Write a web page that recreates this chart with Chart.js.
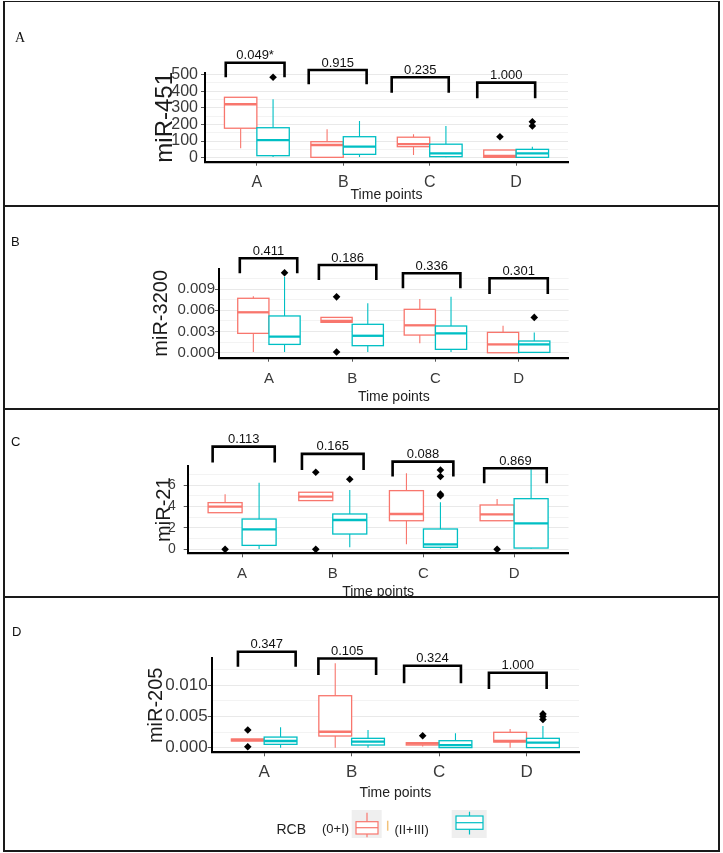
<!DOCTYPE html>
<html>
<head>
<meta charset="utf-8">
<script src="https://cdn.jsdelivr.net/npm/chart.js@4.4.0/dist/chart.umd.min.js"></script>
<style>
  html, body { margin: 0; padding: 0; background: #fff; }
  #page { position: relative; width: 723px; height: 853px; overflow: hidden; }
  .clip { position: absolute; left: 0; width: 723px; overflow: hidden; }
  .clip canvas { position: absolute; left: 0; top: 0; }
  .frame { position: absolute; left: 3px; width: 717px; box-sizing: border-box; border: 2px solid #1a1a1a; z-index: 2; }
  .tag { position: absolute; font-family: 'Liberation Sans', Arial, sans-serif; font-size: 13px; color: #111; z-index: 3; }
</style>
</head>
<body>
<div id="page">
  <div class="clip" style="top:0;height:206px"><canvas id="chart-451" width="723" height="206"></canvas></div>
  <div class="clip" style="top:206px;height:203px"><canvas id="chart-3200" width="723" height="203"></canvas></div>
  <div class="clip" style="top:409px;height:188px"><canvas id="chart-21" width="723" height="196"></canvas></div>
  <div class="clip" style="top:597px;height:254px"><canvas id="chart-205" width="723" height="254"></canvas></div>

  <div class="frame" style="top:1px;height:206px;border-top-width:1.5px"></div>
  <div class="frame" style="top:205px;height:205px"></div>
  <div class="frame" style="top:408px;height:190px"></div>
  <div class="frame" style="top:596px;height:256px"></div>

  <span class="tag" style="left:15px;top:30px;font-family:'Liberation Serif','DejaVu Serif',serif;font-size:14px">A</span>
  <span class="tag" style="left:11px;top:234px">B</span>
  <span class="tag" style="left:11px;top:434px">C</span>
  <span class="tag" style="left:12px;top:624px">D</span>
</div>

<script>
// Box plots of four miRNAs by time point, two RCB groups side by side.
// Each box: [lower whisker, q1, median, q3, upper whisker].

const categories = ["A", "B", "C", "D"];
const groupNames = ["(0+I)", "(II+III)"];
const groupColors = ["#F8766D", "#00BFC4"];

// miR-451
const mir451Red = [[57, 177, 321, 363, 363], [2, 2, 76, 96, 171], [16, 66, 81, 123, 141], [2, 2, 10, 46, 46]];
const mir451Cyan = [[4, 12, 106, 180, 351], [4, 20, 66, 126, 221], [2, 6, 26, 81, 191], [2, 2, 26, 50, 66]];
const mir451RedOut = [[], [], [], [126]];
const mir451CyanOut = [[483], [], [], [216, 190]];
const mir451Ticks = [0, 100, 200, 300, 400, 500];
const mir451TickLabels = ["0", "100", "200", "300", "400", "500"];
const mir451Minor = [50, 150, 250, 350, 450];
const mir451Range = [-24.25, 509];
const mir451P = ["0.049*", "0.915", "0.235", "1.000"];
const mir451BracketTop = [571, 527, 483, 451];
const mir451BracketFoot = [483, 441, 391, 357];
const mir451BracketSpan = [[-0.36, 0.32], [-0.40, 0.27], [-0.44, 0.22], [-0.45, 0.22]];

// miR-3200
const mir3200Red = [[0.0001, 0.00274, 0.00572, 0.0077, 0.008], [0.0043, 0.0043, 0.00449, 0.005, 0.005], [0.00133, 0.0025, 0.00388, 0.00614, 0.0076], [0, 0, 0.00118, 0.00288, 0.0038]];
const mir3200Cyan = [[0.0001, 0.00118, 0.00227, 0.0052, 0.01075], [0.0001, 0.001, 0.0024, 0.00402, 0.007], [0.0001, 0.00048, 0.00274, 0.00378, 0.0079], [0, 0.00005, 0.00118, 0.00166, 0.00288]];
const mir3200RedOut = [[], [0.0079, 0.0001], [], []];
const mir3200CyanOut = [[0.0113], [], [], [0.005]];
const mir3200Ticks = [0, 0.003, 0.006, 0.009];
const mir3200TickLabels = ["0.000", "0.003", "0.006", "0.009"];
const mir3200Minor = [0.0015, 0.0045, 0.0075, 0.0105];
const mir3200Range = [-0.0007, 0.01184];
const mir3200P = ["0.411", "0.186", "0.336", "0.301"];
const mir3200BracketTop = [0.01336, 0.01241, 0.01124, 0.01053];
const mir3200BracketFoot = [0.01124, 0.01029, 0.00911, 0.00831];
const mir3200BracketSpan = [[-0.35, 0.34], [-0.40, 0.29], [-0.39, 0.30], [-0.35, 0.35]];

// miR-21
const mir21Red = [[3.42, 3.42, 3.98, 4.36, 5.14], [4.55, 4.55, 4.92, 5.33, 5.33], [0.47, 2.67, 3.3, 5.48, 7.1], [2.67, 2.67, 3.27, 4.14, 4.7]];
const mir21Cyan = [[0.04, 0.37, 1.87, 2.83, 6.22], [0.19, 1.43, 2.74, 3.3, 5.54], [0.07, 0.19, 0.47, 1.9, 4.39], [0.05, 0.12, 2.43, 4.73, 7.48]];
const mir21RedOut = [[0], [7.2, 0], [], [0]];
const mir21CyanOut = [[], [6.54], [7.4, 6.8, 5.15, 5.0], []];
const mir21Ticks = [0, 2, 4, 6];
const mir21TickLabels = ["0", "2", "4", "6"];
const mir21Minor = [1, 3, 5, 7];
const mir21Range = [-0.37, 7.78];
const mir21P = ["0.113", "0.165", "0.088", "0.869"];
const mir21BracketTop = [9.59, 8.91, 8.19, 7.57];
const mir21BracketFoot = [8.1, 7.41, 6.79, 6.17];
const mir21BracketSpan = [[-0.325, 0.36], [-0.34, 0.34], [-0.34, 0.33], [-0.33, 0.36]];

// miR-205
const mir205Red = [[0.00107, 0.00107, 0.00123, 0.00139, 0.00139], [0, 0.00187, 0.00255, 0.0083, 0.01347], [0.0002, 0.00043, 0.00064, 0.0008, 0.0008], [0, 0.00091, 0.00107, 0.00246, 0.00298]];
const mir205Cyan = [[0, 0.00054, 0.00107, 0.0017, 0.00325], [0, 0.00043, 0.00096, 0.0015, 0.00282], [0, 0.00002, 0.00043, 0.00112, 0.0023], [0, 0.00002, 0.0008, 0.0015, 0.00346]];
const mir205RedOut = [[0.00282, 0.00016], [], [0.00191], []];
const mir205CyanOut = [[], [], [], [0.0054, 0.005, 0.0045]];
const mir205Ticks = [0, 0.005, 0.01];
const mir205TickLabels = ["0.000", "0.005", "0.010"];
const mir205Minor = [0.0025, 0.0075, 0.0125];
const mir205Range = [-0.00073, 0.01427];
const mir205P = ["0.347", "0.105", "0.324", "1.000"];
const mir205BracketTop = [0.01532, 0.01425, 0.01308, 0.01197];
const mir205BracketFoot = [0.01293, 0.0116, 0.01027, 0.00937];
const mir205BracketSpan = [[-0.30, 0.36], [-0.38, 0.28], [-0.40, 0.25], [-0.43, 0.23]];

Chart.defaults.font.family = "'Liberation Sans', Arial, sans-serif";

const SHIFTS = [-0.1875, 0.1875];
const BOX_WIDTH = 0.375;
const Y_AXIS_W = 60;

function boxLayer(series) {
  return {
    id: "boxLayer",
    beforeDatasetsDraw(chart) {
      const { ctx, scales: { x, y } } = chart;
      ctx.save();
      series.forEach((stats, g) => {
        stats.forEach((s, i) => {
          const [lo, q1, med, q3, hi] = s;
          const xl = x.getPixelForValue(i + 1 + SHIFTS[g] - BOX_WIDTH / 2);
          const xr = x.getPixelForValue(i + 1 + SHIFTS[g] + BOX_WIDTH / 2);
          const xc = (xl + xr) / 2;
          const yt = y.getPixelForValue(q3);
          const yb = y.getPixelForValue(q1);
          ctx.strokeStyle = groupColors[g];
          ctx.lineWidth = 1.1;
          ctx.beginPath();
          ctx.moveTo(xc, y.getPixelForValue(hi));
          ctx.lineTo(xc, yt);
          ctx.moveTo(xc, yb);
          ctx.lineTo(xc, y.getPixelForValue(lo));
          ctx.stroke();
          ctx.fillStyle = "#fff";
          ctx.fillRect(xl, yt, xr - xl, yb - yt);
          ctx.lineWidth = 1.3;
          ctx.strokeRect(xl, yt, xr - xl, yb - yt);
          const ym = y.getPixelForValue(med);
          ctx.lineWidth = 2.3;
          ctx.beginPath();
          ctx.moveTo(xl, ym);
          ctx.lineTo(xr, ym);
          ctx.stroke();
        });
      });
      ctx.restore();
    },
  };
}

function bracketLayer(labels, tops, feet, spans, fontSize) {
  return {
    id: "bracketLayer",
    afterDraw(chart) {
      const { ctx, scales: { x, y } } = chart;
      ctx.save();
      ctx.strokeStyle = "#000";
      ctx.lineWidth = 2.6;
      ctx.fillStyle = "#111";
      ctx.font = `${fontSize}px 'Liberation Sans', Arial, sans-serif`;
      ctx.textAlign = "center";
      ctx.textBaseline = "middle";
      tops.forEach((top, i) => {
        const x1 = x.getPixelForValue(i + 1 + spans[i][0]);
        const x2 = x.getPixelForValue(i + 1 + spans[i][1]);
        const yt = y.getPixelForValue(top);
        const yf = y.getPixelForValue(feet[i]);
        ctx.beginPath();
        ctx.moveTo(x1, yf);
        ctx.lineTo(x1, yt);
        ctx.lineTo(x2, yt);
        ctx.lineTo(x2, yf);
        ctx.stroke();
        ctx.fillText(labels[i], (x1 + x2) / 2, yt - 7);
      });
      ctx.restore();
    },
  };
}

// legend drawn under the last panel, ggplot style keys
const legendLayer = {
  id: "legendLayer",
  afterDraw(chart) {
    const { ctx } = chart;
    ctx.save();
    ctx.textBaseline = "middle";
    ctx.textAlign = "left";
    ctx.fillStyle = "#222";
    ctx.font = "14px 'Liberation Sans', Arial, sans-serif";
    ctx.fillText("RCB", 276.5, 233);
    ctx.font = "13px 'Liberation Sans', Arial, sans-serif";
    ctx.fillText(groupNames[0], 322, 232);
    ctx.fillText(groupNames[1], 394.5, 233);

    const keys = [
      { x: 351.7, w: 30, top: 213, box: [356, 378, 224.7, 237], med: 230.7, wh: [215.7, 240.3] },
      { x: 451.7, w: 35, top: 213, box: [456, 483, 219, 232.3], med: 225.7, wh: [214.7, 237.5] },
    ];
    keys.forEach((k, g) => {
      ctx.fillStyle = "#efefef";
      ctx.fillRect(k.x, k.top, k.w, 28);
      ctx.strokeStyle = groupColors[g];
      ctx.lineWidth = 1.2;
      const cx = (k.box[0] + k.box[1]) / 2;
      ctx.beginPath();
      ctx.moveTo(cx, k.wh[0]);
      ctx.lineTo(cx, k.wh[1]);
      ctx.stroke();
      ctx.fillStyle = "#fff";
      ctx.fillRect(k.box[0], k.box[2], k.box[1] - k.box[0], k.box[3] - k.box[2]);
      ctx.strokeRect(k.box[0], k.box[2], k.box[1] - k.box[0], k.box[3] - k.box[2]);
      ctx.beginPath();
      ctx.moveTo(k.box[0], k.med);
      ctx.lineTo(k.box[1], k.med);
      ctx.stroke();
    });
    ctx.strokeStyle = "#f2c27a";
    ctx.lineWidth = 1.5;
    ctx.beginPath();
    ctx.moveTo(387.7, 223.7);
    ctx.lineTo(387.7, 233.7);
    ctx.stroke();
    ctx.restore();
  },
};

function renderPanel(canvasId, name, d, L, extraPlugins) {
  const isMajor = (v) => d.ticks.some((t) => Math.abs(t - v) < 1e-12);
  const labelFor = (v) => {
    const k = d.ticks.findIndex((t) => Math.abs(t - v) < 1e-12);
    return k < 0 ? "" : d.tickLabels[k];
  };
  const yTitleLH = L.yTitleSize * 1.2;
  const xTitleLH = L.xTitleSize * 1.2;
  const xH = L.xTitleY + xTitleLH / 2 - L.areaBottom;
  const xTickPad = L.xLabelY - L.areaBottom - 4 - 0.55 * L.xTickSize;

  const points = [];
  d.outliers.forEach((perCat, g) => {
    perCat.forEach((vals, i) => {
      vals.forEach((v) => points.push({ x: i + 1 + SHIFTS[g], y: v }));
    });
  });

  return new Chart(document.getElementById(canvasId), {
    type: "scatter",
    data: {
      datasets: [
        {
          label: "outliers",
          data: points,
          pointStyle: "rectRot",
          pointRadius: 3.8,
          backgroundColor: "#000",
          borderColor: "#000",
          borderWidth: 0,
          clip: false,
        },
      ],
    },
    options: {
      responsive: false,
      animation: false,
      events: [],
      layout: {
        padding: {
          left: L.left - Y_AXIS_W,
          right: 723 - L.right,
          top: L.areaTop,
          bottom: L.canvasH - L.areaBottom - xH,
        },
      },
      scales: {
        x: {
          type: "linear",
          min: 0.4,
          max: 4.6,
          afterBuildTicks: (s) => {
            s.ticks = categories.map((c, i) => ({ value: i + 1 }));
          },
          afterFit: (s) => {
            s.height = xH;
          },
          ticks: {
            callback: (v) => categories[v - 1],
            color: "#3a3a3a",
            font: { size: L.xTickSize },
            padding: xTickPad,
            maxRotation: 0,
            autoSkip: false,
          },
          grid: { drawOnChartArea: false, tickLength: 4, tickColor: "#555", tickWidth: 1 },
          border: { color: "#000", width: 2.2 },
          title: {
            display: true,
            text: "Time points",
            color: "#222",
            font: { size: L.xTitleSize, lineHeight: 1.2 },
            padding: { top: 0, bottom: 0 },
          },
        },
        y: {
          type: "linear",
          min: d.range[0],
          max: d.range[1],
          afterBuildTicks: (s) => {
            s.ticks = [...d.ticks, ...d.minor].sort((a, b) => a - b).map((v) => ({ value: v }));
          },
          afterFit: (s) => {
            s.width = Y_AXIS_W;
          },
          ticks: {
            callback: (v) => labelFor(v),
            color: "#3a3a3a",
            font: { size: L.yTickSize },
            padding: L.yTickPad,
            autoSkip: false,
          },
          grid: {
            color: (c) => (c.tick && isMajor(c.tick.value) ? "#e9e9e9" : "#f3f3f3"),
            tickColor: (c) => (c.tick && isMajor(c.tick.value) ? "#555" : "rgba(0,0,0,0)"),
            tickLength: 4,
            lineWidth: 1,
          },
          border: { color: "#000", width: 2 },
          title: {
            display: true,
            text: name,
            color: "#1a1a1a",
            font: { size: L.yTitleSize, lineHeight: 1.2 },
            padding: { top: L.yTitleX - (L.left - Y_AXIS_W) - yTitleLH / 2, bottom: 0 },
          },
        },
      },
      plugins: { legend: { display: false }, tooltip: { enabled: false } },
    },
    plugins: [boxLayer(d.series), bracketLayer(d.p, d.bracketTop, d.bracketFoot, d.bracketSpan, 13), ...extraPlugins],
  });
}

renderPanel(
  "chart-451",
  "miR-451",
  {
    series: [mir451Red, mir451Cyan],
    outliers: [mir451RedOut, mir451CyanOut],
    ticks: mir451Ticks, tickLabels: mir451TickLabels, minor: mir451Minor, range: mir451Range,
    p: mir451P, bracketTop: mir451BracketTop, bracketFoot: mir451BracketFoot, bracketSpan: mir451BracketSpan,
  },
  { canvasH: 206, left: 205, right: 568, areaTop: 73, areaBottom: 161.7, yTitleX: 165, yTitleSize: 24, yTickSize: 16, yTickPad: 3, xTickSize: 16, xLabelY: 181.7, xTitleY: 195, xTitleSize: 14 },
  []
);

renderPanel(
  "chart-3200",
  "miR-3200",
  {
    series: [mir3200Red, mir3200Cyan],
    outliers: [mir3200RedOut, mir3200CyanOut],
    ticks: mir3200Ticks, tickLabels: mir3200TickLabels, minor: mir3200Minor, range: mir3200Range,
    p: mir3200P, bracketTop: mir3200BracketTop, bracketFoot: mir3200BracketFoot, bracketSpan: mir3200BracketSpan,
  },
  { canvasH: 203, left: 219, right: 568.6, areaTop: 63, areaBottom: 151.7, yTitleX: 161, yTitleSize: 20, yTickSize: 15, yTickPad: 0, xTickSize: 15, xLabelY: 172.3, xTitleY: 190.7, xTitleSize: 14 },
  []
);

renderPanel(
  "chart-21",
  "miR-21",
  {
    series: [mir21Red, mir21Cyan],
    outliers: [mir21RedOut, mir21CyanOut],
    ticks: mir21Ticks, tickLabels: mir21TickLabels, minor: mir21Minor, range: mir21Range,
    p: mir21P, bracketTop: mir21BracketTop, bracketFoot: mir21BracketFoot, bracketSpan: mir21BracketSpan,
  },
  { canvasH: 196, left: 187.7, right: 568.5, areaTop: 57, areaBottom: 144.3, yTitleX: 164, yTitleSize: 20, yTickSize: 14, yTickPad: 8, xTickSize: 15, xLabelY: 164.3, xTitleY: 182.7, xTitleSize: 14 },
  []
);

renderPanel(
  "chart-205",
  "miR-205",
  {
    series: [mir205Red, mir205Cyan],
    outliers: [mir205RedOut, mir205CyanOut],
    ticks: mir205Ticks, tickLabels: mir205TickLabels, minor: mir205Minor, range: mir205Range,
    p: mir205P, bracketTop: mir205BracketTop, bracketFoot: mir205BracketFoot, bracketSpan: mir205BracketSpan,
  },
  { canvasH: 254, left: 211.7, right: 579, areaTop: 61.3, areaBottom: 155.3, yTitleX: 156, yTitleSize: 20, yTickSize: 17, yTickPad: 0, xTickSize: 17, xLabelY: 174.7, xTitleY: 196.3, xTitleSize: 14 },
  [legendLayer]
);
</script>
</body>
</html>
